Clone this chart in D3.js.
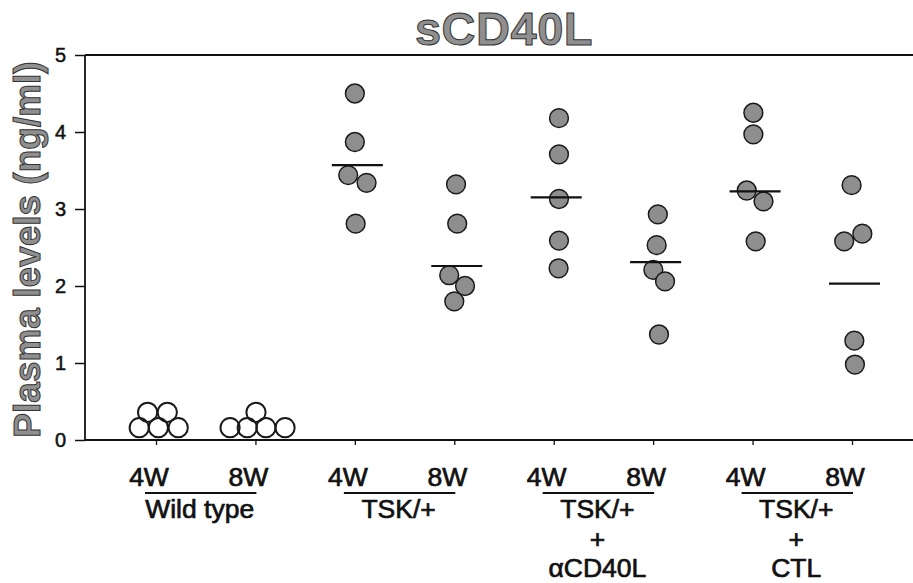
<!DOCTYPE html>
<html>
<head>
<meta charset="utf-8">
<script src="https://cdn.jsdelivr.net/npm/d3@7"></script>
<style>
  html, body { margin: 0; padding: 0; background: #fff; }
  svg { display: block; }
</style>
</head>
<body>
<svg id="chart" width="913" height="583"></svg>
<script>
// ---- data ----
const categories = ["WT-4W", "WT-8W", "TSK-4W", "TSK-8W", "ANTI-4W", "ANTI-8W", "CTL-4W", "CTL-8W"];
const weekLabels = ["4W", "8W", "4W", "8W", "4W", "8W", "4W", "8W"];
const groupLabels = [["Wild type"], ["TSK/+"], ["TSK/+", "+", "\u03b1CD40L"], ["TSK/+", "+", "CTL"]];
const yTicks = [0, 1, 2, 3, 4, 5];

const wildType4W = [0.36, 0.36, 0.16, 0.16, 0.16];
const wildType8W = [0.36, 0.16, 0.16, 0.16, 0.16];
const tsk4W      = [4.50, 3.87, 3.44, 3.34, 2.81];
const tsk8W      = [3.32, 2.81, 2.14, 2.00, 1.80];
const anti4W     = [4.18, 3.71, 3.13, 2.59, 2.23];
const anti8W     = [2.93, 2.53, 2.21, 2.06, 1.37];
const ctl4W      = [4.25, 3.97, 3.24, 3.10, 2.58];
const ctl8W      = [3.31, 2.68, 2.58, 1.29, 0.98];

// horizontal jitter of each dot, in dot widths (as scattered in the figure)
const jitterWT4W   = [-0.43, 0.58, -0.86, 0.12, 1.14];
const jitterWT8W   = [0.03, -1.30, -0.42, 0.54, 1.52];
const jitterTSK4W  = [0.00, 0.00, -0.34, 0.60, 0.04];
const jitterTSK8W  = [0.09, 0.15, -0.26, 0.55, 0.00];
const jitterANTI4W = [0.27, 0.27, 0.27, 0.27, 0.25];
const jitterANTI8W = [0.24, 0.18, 0.01, 0.61, 0.30];
const jitterCTL4W  = [0.04, 0.04, -0.30, 0.56, 0.16];
const jitterCTL8W  = [-0.02, 0.53, -0.40, 0.12, 0.15];

// group means (horizontal bars); wild type has none
const means = [null, null, 3.57, 2.26, 3.15, 2.31, 3.23, 2.03];

const seriesValues = [wildType4W, wildType8W, tsk4W, tsk8W, anti4W, anti8W, ctl4W, ctl8W];
const seriesJitter = [jitterWT4W, jitterWT8W, jitterTSK4W, jitterTSK8W, jitterANTI4W, jitterANTI8W, jitterCTL4W, jitterCTL8W];
const openMarker = [true, true, false, false, false, false, false, false];

// ---- layout ----
const W = 913, H = 583;
const plotLeft = 85, plotTop = 55, plotBottom = 440;
const svg = d3.select("#chart");
const font = "'Liberation Sans', Arial, Helvetica, sans-serif";

const y = d3.scaleLinear().domain([0, 5]).range([plotBottom, plotTop]);
const x = d3.scalePoint().domain(categories).range([156, 852]);
const dotD = 19.5;

// frame lines: top and bottom to the right edge, left axis line
svg.append("line").attr("x1", plotLeft).attr("x2", W).attr("y1", y(5)).attr("y2", y(5))
  .attr("stroke", "#111").attr("stroke-width", 2);
svg.append("line").attr("x1", plotLeft).attr("x2", W).attr("y1", y(0)).attr("y2", y(0))
  .attr("stroke", "#111").attr("stroke-width", 2.2);
svg.append("line").attr("x1", plotLeft).attr("x2", plotLeft).attr("y1", y(5)).attr("y2", y(0))
  .attr("stroke", "#111").attr("stroke-width", 1.8);

// y axis
const yAxis = svg.append("g").attr("transform", `translate(${plotLeft},0)`)
  .call(d3.axisLeft(y).tickValues(yTicks).tickSize(10).tickPadding(9).tickFormat(d3.format("d")));
yAxis.select(".domain").remove();
yAxis.selectAll(".tick line").attr("stroke", "#111").attr("stroke-width", 1.5);
yAxis.selectAll(".tick text").attr("font-family", font).attr("font-size", 20)
  .attr("fill", "#111").attr("stroke", "#111").attr("stroke-width", 0.5);

// x axis ticks (no labels)
const xAxis = svg.append("g").attr("transform", `translate(0,${plotBottom})`)
  .call(d3.axisBottom(x).tickSize(5).tickFormat(""));
xAxis.select(".domain").remove();
xAxis.selectAll(".tick line").attr("stroke", "#111").attr("stroke-width", 1.3);

// dots
categories.forEach((cat, i) => {
  const vals = seriesValues[i];
  const jit = seriesJitter[i];
  svg.append("g").selectAll("circle").data(vals).join("circle")
    .attr("cx", (d, j) => x(cat) + jit[j] * dotD)
    .attr("cy", d => y(d))
    .attr("r", openMarker[i] ? 9.6 : 9.4)
    .attr("fill", openMarker[i] ? "none" : "#8e8e8e")
    .attr("stroke", "#1a1a1a")
    .attr("stroke-width", openMarker[i] ? 2 : 1.5);
});

// mean bars
svg.append("g").selectAll("line").data(categories.filter((c, i) => means[i] !== null)).join("line")
  .attr("x1", c => x(c) + 2.5 - 25.5)
  .attr("x2", c => x(c) + 2.5 + 25.5)
  .attr("y1", c => y(means[categories.indexOf(c)]))
  .attr("y2", c => y(means[categories.indexOf(c)]))
  .attr("stroke", "#111").attr("stroke-width", 2.2);

// week labels
svg.append("g").selectAll("text").data(categories).join("text")
  .attr("x", c => x(c) - 7)
  .attr("y", plotBottom + 46)
  .attr("text-anchor", "middle")
  .attr("font-family", font).attr("font-size", 26.5)
  .attr("fill", "#111").attr("stroke", "#111").attr("stroke-width", 0.7)
  .text((c, i) => weekLabels[i]);

// group underlines and labels
groupLabels.forEach((lines, g) => {
  const x4 = x(categories[2 * g]), x8 = x(categories[2 * g + 1]);
  svg.append("line").attr("x1", x4 - 11).attr("x2", x8 + 1)
    .attr("y1", plotBottom + 53).attr("y2", plotBottom + 53)
    .attr("stroke", "#111").attr("stroke-width", 2.2);
  const cx = (x4 + x8) / 2 - 6;
  lines.forEach((t, k) => {
    svg.append("text")
      .attr("x", cx).attr("y", plotBottom + 78 + k * 29.5)
      .attr("text-anchor", "middle")
      .attr("font-family", font).attr("font-size", 26.5)
      .attr("fill", "#111").attr("stroke", "#111").attr("stroke-width", 0.7)
      .text(t);
  });
});

// title
svg.append("text")
  .attr("x", 504).attr("y", 45)
  .attr("text-anchor", "middle")
  .attr("font-family", font).attr("font-weight", "bold").attr("font-size", 47)
  .attr("letter-spacing", 0.5)
  .attr("fill", "#8f8f8f").attr("stroke", "#333").attr("stroke-width", 1)
  .text("sCD40L");

// y label
svg.append("text")
  .attr("transform", `translate(40,${(plotTop + plotBottom) / 2 + 2}) rotate(-90)`)
  .attr("text-anchor", "middle")
  .attr("font-family", font).attr("font-weight", "bold").attr("font-size", 37)
  .attr("fill", "#8f8f8f").attr("stroke", "#333").attr("stroke-width", 1)
  .text("Plasma levels (ng/ml)");
</script>
</body>
</html>
